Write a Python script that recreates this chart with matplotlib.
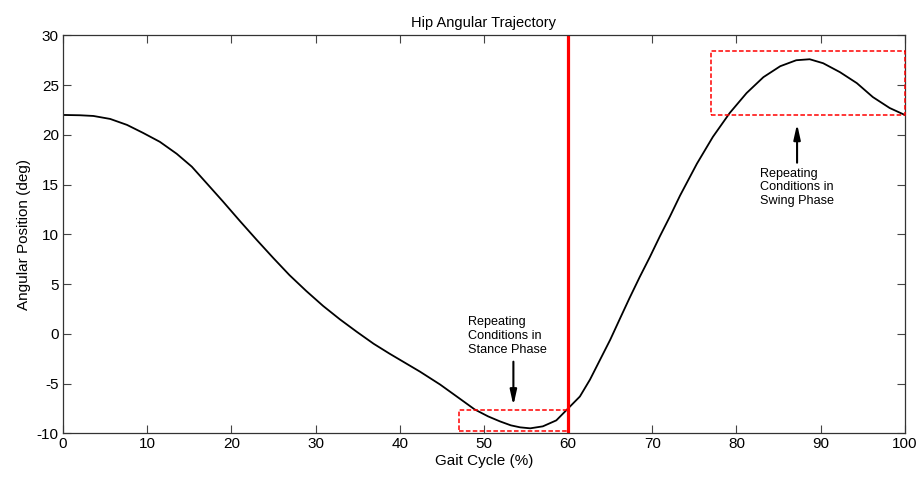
import matplotlib
matplotlib.use("Agg")
import matplotlib.pyplot as plt
from matplotlib.patches import Rectangle

plt.rcParams['font.family'] = ['Liberation Sans', 'DejaVu Sans']
plt.rcParams['axes.unicode_minus'] = False

# hip angle
gait_pct = [0, 2, 3.6, 5.6, 7.6, 9.5, 11.5, 13.5, 15.3, 17.1, 19.0, 21.0, 23.0,
            25.0, 26.9, 28.9, 30.9, 32.9, 34.9, 36.9, 38.8, 40.0, 42.4, 44.8,
            47.1, 48.9, 50.5, 51.9, 53.2, 54.3, 55.5, 57.0, 58.6, 60.0, 61.4,
            62.6, 63.8, 65.0, 66.2, 67.3, 68.5, 69.7, 70.9, 72.1, 73.3, 75.3,
            77.2, 79.2, 81.2, 83.2, 85.2, 87.1, 88.7, 90.3, 92.3, 94.3, 96.2,
            98.2, 100]
hip_angle = [22.0, 21.97, 21.9, 21.6, 21.0, 20.2, 19.3, 18.1, 16.8, 15.1, 13.3,
             11.35, 9.45, 7.6, 5.9, 4.3, 2.8, 1.45, 0.2, -1.0, -2.0, -2.6, -3.8,
             -5.1, -6.5, -7.6, -8.3, -8.8, -9.2, -9.4, -9.5, -9.3, -8.7, -7.5,
             -6.3, -4.6, -2.6, -0.6, 1.6, 3.6, 5.7, 7.7, 9.8, 11.8, 13.9, 17.1,
             19.8, 22.2, 24.2, 25.8, 26.9, 27.5, 27.6, 27.2, 26.3, 25.2, 23.8,
             22.7, 22.0]

toe_off = 60
stance_box = (47, -9.8, 60, -7.7)   # x0, y0, x1, y1
swing_box = (77, 22.0, 100, 28.4)

x_ticks = list(range(0, 101, 10))
y_ticks = list(range(-10, 31, 5))

fig = plt.figure(figsize=(9.23, 4.78), dpi=100)
ax = fig.add_axes([0.0683, 0.0935, 0.912, 0.8325])

ax.plot(gait_pct, hip_angle, color='black', lw=1.3)
ax.axvline(toe_off, color='#ff0000', lw=2.3)

for x0, y0, x1, y1 in [stance_box, swing_box]:
    ax.add_patch(Rectangle((x0, y0), x1 - x0, y1 - y0, fill=False,
                           edgecolor='#ff0000', ls=(0, (3, 1.5)), lw=1.1,
                           clip_on=False, zorder=3))

arrow = dict(arrowstyle='-|>,head_length=0.9,head_width=0.2', color='black',
             lw=1.5, shrinkA=0, shrinkB=0)
ax.annotate('', xy=(53.5, -7.2), xytext=(53.5, -2.8), arrowprops=arrow)
ax.annotate('', xy=(87.2, 21.1), xytext=(87.2, 17.2), arrowprops=arrow)

ax.text(48.1, 1.8, 'Repeating\nConditions in\nStance Phase', fontsize=9.1,
        va='top', ha='left', linespacing=1.2)
ax.text(82.8, 16.7, 'Repeating\nConditions in\nSwing Phase', fontsize=9.1,
        va='top', ha='left', linespacing=1.2)

ax.set_xlim(0, 100)
ax.set_ylim(-10, 30)
ax.set_xticks(x_ticks)
ax.set_yticks(y_ticks)
ax.tick_params(direction='in', length=6, width=0.8, top=True, right=True,
               labelsize=11, color='#444444', pad=3)
for s in ax.spines.values():
    s.set_linewidth(0.9)
    s.set_color('#333333')

ax.set_xlabel('Gait Cycle (%)', fontsize=11, labelpad=2)
ax.set_ylabel('Angular Position (deg)', fontsize=11, labelpad=4)
ax.set_title('Hip Angular Trajectory', fontsize=10.5, pad=6)

fig.savefig('out.png', dpi=100)
